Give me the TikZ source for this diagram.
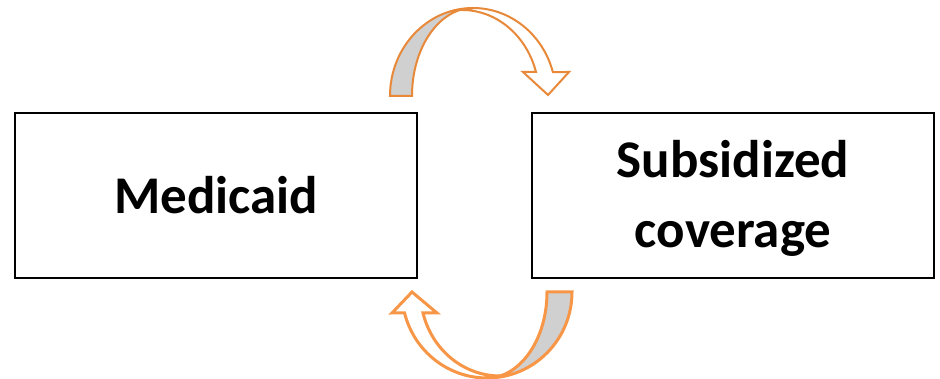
\documentclass[tikz,border=0pt]{standalone}
\usepackage{fontspec}
\setmainfont{Carlito}
\definecolor{toporange}{HTML}{E8893A}
\definecolor{botorange}{HTML}{F79646}
\definecolor{shade}{HTML}{D0D0D0}
\begin{document}
\begin{tikzpicture}[x=1pt,y=1pt,
  box/.style={draw=black, line width=1.6pt, minimum width=402pt, minimum height=165pt,
    align=center, inner sep=0pt, font=\bfseries\fontsize{53}{70}\selectfont},
  toparrow/.style={draw=toporange, line width=2pt, line join=miter},
  botarrow/.style={draw=botorange, line width=3pt, line join=miter}]
\useasboundingbox (0,0) rectangle (940,379);
\node[box] (med) at (216,183.5) {Medicaid};
\node[box] (sub) at (733,183.5) {};
\node[align=center, inner sep=0pt, font=\bfseries\fontsize{53}{70}\selectfont] (subtext) at (733,181) {Subsidized\\coverage};
% top curved arrow: white front part
\draw[toparrow, fill=white] (473,371)
  arc[start angle=90, end angle=15.8, x radius=83pt, y radius=88pt]
  -- (569,307) -- (548,284) -- (523,307) -- (536,307)
  arc[start angle=16.2, end angle=90, x radius=77pt, y radius=86pt]
  -- cycle;
% top curved arrow: shaded back part
\draw[toparrow, fill=shade] (390,283)
  arc[start angle=180, end angle=90, x radius=83pt, y radius=88pt]
  arc[start angle=90, end angle=180, x radius=61pt, y radius=88pt]
  -- cycle;
% bottom curved arrow: shaded back part
\draw[botarrow, fill=shade] (572,87)
  arc[start angle=360, end angle=270, x radius=85pt, y radius=86pt]
  arc[start angle=270, end angle=360, x radius=60pt, y radius=86pt]
  -- cycle;
% bottom curved arrow: white front part
\draw[botarrow, fill=white] (487,1)
  arc[start angle=270, end angle=194.1, x radius=85pt, y radius=86pt]
  -- (392,66) -- (412,87) -- (437,66) -- (423,66)
  arc[start angle=194.5, end angle=270, x radius=79.5pt, y radius=84pt]
  -- cycle;
\end{tikzpicture}
\end{document}
